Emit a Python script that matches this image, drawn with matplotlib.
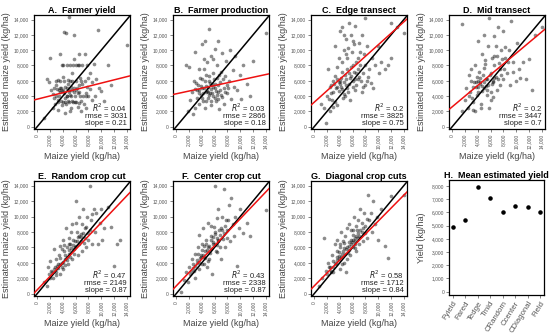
import matplotlib
matplotlib.use("Agg")
import matplotlib.pyplot as plt
from matplotlib.ticker import FuncFormatter

plt.rcParams['font.family'] = ['Liberation Sans', 'DejaVu Sans']

titles = ["A.  Farmer yield", "B.  Farmer production", "C.  Edge transect", "D.  Mid transect",
          "E.  Random crop cut", "F.  Center crop cut", "G.  Diagonal crop cuts"]
r2_vals = ["0.04", "0.03", "0.2", "0.2", "0.47", "0.43", "0.58"]
rmse_vals = [3031, 2866, 3825, 3447, 2149, 2338, 1712]
slopes = [0.21, 0.18, 0.75, 0.7, 0.87, 0.87, 0.84]
intercepts = [3600, 4300, 3200, 2600, 500, 1000, 1000]

a_pts = [(1000,1200),(1500,6200),(1800,5800),(2000,9000),(2200,4800),(2500,2500),(2600,5000),(2800,3000),(3000,4000),(3000,6000),(3200,2200),(3300,3500),(3500,9500),(3600,4500),(3700,5000),(3800,8000),(3800,2800),(4000,3200),(4000,4800),(4100,6500),(4200,12400),(4300,5200),(4400,1800),(4500,12300),(4500,3000),(4600,4000),(4700,8000),(4800,5600),(5000,14300),(5000,3200),(5100,4200),(5200,6000),(5300,2400),(5400,4800),(5500,7000),(5600,3200),(5700,12000),(5800,8800),(5900,4000),(6000,6000),(6100,3200),(6200,5000),(6300,8000),(6400,2600),(6500,4500),(6600,9500),(6700,6400),(6800,3300),(7000,5600),(7000,8000),(7200,4000),(7300,3000),(7400,6000),(7500,9500),(7600,2500),(7800,5200),(8000,6400),(8000,4000),(8200,7000),(8500,3500),(8600,5800),(8800,8200),(9000,4000),(9200,6200),(9500,12600),(9700,5000),(10000,4700),(10500,3300),(11000,8000),(11500,5500),(14000,10700),(3400,4800),(2400,4300),(4900,4600),(5800,5000),(6300,4400),(7700,4400),(3600,6000),(6900,2000),(5100,2000),(4400,3800),
         (3100,4900),(3500,5100),(3900,4700),(4200,4400),(4600,5000),(5000,4800),(5300,5200),(5700,4600),(6100,4800),(6500,5400),(3200,3200),(3700,3300),(4300,3200),(4800,3300),(5500,3300),(5900,3200),(6500,3100),(2900,5500),(3300,6100),(4200,6000),(4800,6100),(5500,6000),(6800,6000),(4000,8000),(5200,8000),(5600,8000),(6000,8000),(6600,8000),(7800,8000),(3400,4000),(4700,4000),(5300,4000),(6700,4000),(7600,4000),(8300,4900),(2700,3700)]
b_pts = [(1500,8000),(1800,2000),(2000,7800),(2200,3500),(2500,4500),(2800,6000),(3000,2500),(3000,9800),(3200,4800),(3400,5500),(3500,3000),(3600,7500),(3800,4200),(4000,6200),(4000,10800),(4200,3400),(4300,5000),(4500,11200),(4500,2500),(4600,4600),(4700,6800),(4800,8400),(5000,5200),(5000,3800),(5200,12800),(5200,6000),(5300,4400),(5400,9200),(5500,2800),(5600,5600),(5700,7000),(5800,4000),(6000,10200),(6000,5000),(6200,3300),(6300,6400),(6400,8000),(6500,4600),(6600,11200),(6700,2300),(6800,5800),(7000,7200),(7000,4200),(7200,9600),(7400,5000),(7500,3000),(7600,6600),(7800,8600),(8000,4400),(8200,6000),(8400,10000),(8500,3600),(8800,7400),(9000,5200),(9200,9200),(9500,4800),(10000,6800),(10200,3600),(10500,8000),(11000,5600),(11500,4000),(12000,8600),(14000,12200),(3900,5300),(4800,4700),(5600,4400),(6100,5600),(6900,4800),(5100,6600),(4400,7600),(7900,5400),(3300,3800),(2600,1600),
         (3500,4800),(4000,5000),(4200,4400),(4600,5300),(5000,4500),(5300,5700),(5500,4900),(5800,5200),(6200,4700),(6500,5400),(4100,3800),(4700,3400),(5400,3300),(6000,3800),(6600,3600),(3700,6400),(4500,6000),(5900,6300),(6700,6800),(7300,6200),(3100,5700),(2900,4900),(7100,3900),(8100,5100),(4300,8900),(5800,8800),(6400,4100),(7700,4600),(5100,4100),(3600,4400)]
c_pts = [(1000,3000),(1500,2500),(1800,500),(2000,4000),(2200,7500),(2400,2000),(2600,5500),(2800,3500),(3000,6000),(3000,4500),(3200,10500),(3400,5000),(3500,7800),(3600,2800),(3800,9000),(4000,6000),(4000,12500),(4200,5200),(4300,8500),(4400,13000),(4500,3800),(4600,10000),(4800,6800),(5000,5500),(5000,11500),(5200,9000),(5300,4500),(5400,13500),(5500,7000),(5600,3500),(5800,12000),(6000,6000),(6000,8000),(6200,10800),(6300,4800),(6400,13200),(6500,7000),(6600,5500),(6800,9000),(7000,11000),(7000,6500),(7200,8000),(7400,4500),(7500,12000),(7600,7000),(7800,9500),(8000,5500),(8000,8000),(8200,10500),(8400,6500),(8600,7500),(9000,9000),(9200,5000),(9500,8000),(10000,10500),(10200,7000),(10500,8500),(11000,7500),(11500,8000),(12000,9000),(13000,13000),(14000,12300),(12000,13500),(8000,14200),(4800,4000),(3800,5800),(5600,6400),(6800,6200),(4400,7200),(3300,6600),(5900,9800),(2500,5200),
         (3500,5200),(3800,4700),(4100,5600),(4400,4900),(4700,5800),(5000,6200),(5200,5100),(5500,5600),(5800,6600),(6100,5200),(6400,6200),(4200,6400),(3600,6200),(3100,5600),(2700,4400),(4600,4300),(5100,7500),(5700,7800),(6200,7200),(6900,7600),(7300,6000),(7700,5200),(8300,6000),(8800,5700),(3300,3200),(2900,2600),(2300,3600),(6600,8500),(4900,9500),(5300,10300),(7100,9700),(6000,11200),(4700,12000)]
d_pts = [(1500,13400),(1500,2000),(2000,3500),(2200,5000),(2500,2500),(2800,4500),(3000,7600),(3000,6000),(3200,3200),(3400,5800),(3500,8000),(3600,2000),(3800,6500),(4000,4500),(4000,11200),(4200,7200),(4400,5600),(4500,3000),(4600,9500),(4800,6800),(5000,5000),(5000,12000),(5200,8200),(5400,4200),(5500,6200),(5600,10500),(5800,14200),(6000,7000),(6000,3500),(6200,9000),(6400,5800),(6500,11800),(6600,8000),(6800,6500),(7000,9200),(7000,4800),(7200,13000),(7400,7500),(7500,5500),(7600,10000),(7800,8800),(8000,6200),(8000,12500),(8200,9000),(8500,7000),(8800,10000),(9000,5500),(9200,13800),(9500,8500),(10000,6000),(10200,11000),(10500,7500),(11000,8500),(11500,6200),(12000,8800),(12500,4800),(13000,12000),(14000,13000),(4300,5900),(5300,5300),(6300,6000),(3700,5200),(4900,7700),(2700,6800),(5700,2400),(6900,10600),
         (3300,5200),(3700,5800),(4100,5200),(4400,6400),(4700,5300),(5000,5800),(5300,6300),(5600,5400),(5900,6700),(6200,5600),(6600,6400),(4100,6000),(4700,4700),(5500,4800),(6100,4600),(3900,4200),(2600,4000),(3100,3800),(7100,6200),(7600,6800),(8100,7600),(6600,9300),(5100,8700),(7300,8300),(8700,8400),(9500,7100),(4500,2400),(3300,2200),(6400,3900),(8300,10400),(10600,6400)]
e_pts = [(1000,1500),(1500,1000),(1800,2500),(2000,4200),(2200,3000),(2500,2000),(2600,5800),(2800,3500),(3000,2800),(3000,4500),(3200,3800),(3400,5000),(3500,2500),(3600,6200),(3800,4000),(4000,3200),(4000,7000),(4200,5500),(4400,4500),(4500,8500),(4600,6000),(4800,3800),(5000,5200),(5000,7200),(5200,6500),(5400,4500),(5500,9000),(5600,7000),(5800,5800),(6000,12000),(6000,6200),(6200,8000),(6400,5000),(6500,10000),(6600,7500),(6800,6800),(7000,9000),(7000,5500),(7200,11000),(7400,7200),(7500,8500),(7600,6000),(7800,10000),(8000,7800),(8200,14000),(8400,9500),(8500,6500),(8800,11000),(9000,8000),(9200,10500),(9500,6400),(9800,9200),(10000,11000),(10200,7000),(10500,8500),(11000,11200),(11500,8600),(12000,3600),(12500,6500),(13000,7000),(3300,3300),(4700,4300),(5900,6800),(6900,7700),(3900,5800),(2300,2800),(5300,8000),(7900,7000),
         (2700,3200),(3100,3600),(3500,3900),(3800,3400),(4100,4100),(4400,5000),(4700,4800),(5000,5600),(5300,5900),(5600,6300),(5900,6000),(6200,6800),(6500,6400),(6800,7300),(7100,7900),(2900,2400),(3600,4600),(4300,3700),(5100,4700),(5700,5200),(6300,7300),(7300,6600),(7700,8600),(8300,8300),(4900,6500),(6100,9100),(8600,10300),(2000,2000),(1700,3500),(4200,6300)]
f_pts = [(800,200),(1200,1800),(1500,2800),(1800,1500),(2000,3500),(2200,2500),(2500,4500),(2800,3000),(3000,5200),(3000,2000),(3200,4000),(3400,6000),(3500,3200),(3600,7600),(3800,5000),(4000,3800),(4000,6500),(4200,8500),(4400,4800),(4500,5500),(4600,7000),(4800,3500),(5000,6000),(5000,9200),(5200,4500),(5400,7500),(5500,8800),(5600,2500),(5800,6500),(6000,14000),(6000,8000),(6200,5500),(6400,9800),(6500,7000),(6600,11000),(6800,6000),(7000,8500),(7000,4500),(7200,10000),(7400,7800),(7500,13500),(7600,6000),(7800,9500),(8000,8200),(8200,11500),(8400,6800),(8500,12400),(8800,9000),(9000,7500),(9200,10000),(9500,3600),(9800,8500),(10000,11000),(10500,7800),(11000,9200),(11500,7500),(14000,10800),(3700,4600),(5300,5300),(6300,6300),(4300,6200),(2600,3900),(5700,7300),(7300,7100),
         (3000,3600),(3300,4300),(3600,4100),(3900,4800),(4200,5000),(4500,4600),(4800,5700),(5100,6200),(5400,5800),(5700,6700),(6000,6500),(6300,7200),(6600,6800),(6900,7600),(7200,8200),(2700,3300),(3400,5100),(4100,5700),(4700,6500),(5500,7000),(6100,7700),(6700,8300),(7600,8800),(8100,9600),(5000,4200),(4400,3900),(2300,3000),(6400,5400),(5900,8600),(7900,7200)]
g_pts = [(800,1000),(1200,2000),(1500,7200),(1800,3000),(2000,2500),(2200,4000),(2500,3500),(2800,5000),(3000,2800),(3000,4200),(3200,6500),(3400,3800),(3500,5500),(3600,7000),(3800,4500),(4000,6000),(4000,3200),(4200,8000),(4400,5200),(4500,6800),(4600,4000),(4800,7500),(5000,5800),(5000,2800),(5200,8500),(5400,6200),(5500,9000),(5600,5000),(5800,7000),(6000,8200),(6000,6000),(6200,10000),(6400,7200),(6500,5500),(6600,8800),(6800,9500),(7000,7500),(7000,6500),(7200,11000),(7400,8000),(7500,9200),(7600,6800),(7800,10500),(8000,8800),(8200,7200),(8400,12800),(8500,9500),(8800,10500),(9000,8000),(9200,12000),(9500,9000),(9800,10000),(10000,7000),(10500,11000),(11000,6200),(11500,4600),(12000,12600),(14000,12800),(3900,4900),(5300,5300),(6300,6400),(4700,5900),(2700,3000),(6900,7900),(5900,6700),
         (3000,3500),(3300,4000),(3600,4300),(3900,5400),(4200,4700),(4500,5500),(4800,5200),(5100,6000),(5400,5700),(5700,6400),(6000,7000),(6300,6800),(6600,7500),(6900,7200),(7200,8300),(2600,2800),(3500,4700),(4100,6400),(4700,6600),(5500,6700),(6100,7600),(6700,8200),(7700,8500),(8200,9700),(5200,4500),(4400,3800),(2300,3400),(6400,5900),(5800,8200),(7900,7800)]
panel_pts = [a_pts, b_pts, c_pts, d_pts, e_pts, f_pts, g_pts]

h_categories = ["Fyield", "Fared", "Tedge", "Tmid", "CRandom", "Ccenter", "CDiagonal", "Field"]
h_values = [4900, 5400, 7900, 7100, 6050, 6450, 6400, 6000]

W, H = 550, 335
fig = plt.figure(figsize=(5.5, 3.35), dpi=100)

def px_axes(left, top, right, bottom):
    return fig.add_axes([left / W, 1 - bottom / H, (right - left) / W, (bottom - top) / H])

col_lefts = [34, 173, 311, 449]
col_w = 96
row_tb = [(15, 129), (181, 296)]

comma = FuncFormatter(lambda v, p: f"{int(v):,}")
tick_col = "#555555"
label_col = "#444444"

for i in range(7):
    r, c = divmod(i, 4)
    top, bot = row_tb[r]
    ax = px_axes(col_lefts[c], top, col_lefts[c] + col_w, bot)
    pts = panel_pts[i]
    xs = [p[0] for p in pts]
    ys = [p[1] for p in pts]
    ax.scatter(xs, ys, s=7, color="black", alpha=0.45, linewidths=0, zorder=2)
    ax.set_xlim(-500, 14500)
    ax.set_ylim(-300, 14600)
    ax.axline((0, 0), slope=1, color="black", lw=1.1, zorder=3)
    ax.axline((0, intercepts[i]), slope=slopes[i], color="#ee1111", lw=1.1, zorder=4)
    ticks = list(range(0, 14001, 2000))
    ax.set_xticks(ticks)
    ax.set_yticks(ticks)
    ax.xaxis.set_major_formatter(comma)
    ax.yaxis.set_major_formatter(comma)
    ax.tick_params(axis="x", labelrotation=90, labelsize=3.5, length=2, width=0.5,
                   pad=1.5, colors=tick_col)
    ax.tick_params(axis="y", labelsize=3.5, length=2, width=0.5, pad=1.5, colors=tick_col)
    for sp in ax.spines.values():
        sp.set_linewidth(0.9)
    ax.set_title(titles[i], fontsize=6.5, fontweight="bold", pad=1.5)
    ax.set_xlabel("Maize yield (kg/ha)", fontsize=6.5, color=label_col, labelpad=2)
    ax.set_ylabel("Estimated maize yield (kg/ha)", fontsize=6.5, color=label_col, labelpad=2)
    txt = f"$R^2$ = {r2_vals[i]}\nrmse = {rmse_vals[i]}\nslope = {slopes[i]}"
    ax.text(0.97, 0.02, txt, transform=ax.transAxes, ha="right", va="bottom",
            fontsize=5.5, color="#222222", linespacing=0.85, zorder=5)

axh = px_axes(449, 180, 544, 295)
xpos = list(range(1, len(h_categories) + 1))
axh.scatter(xpos, h_values, s=5, color="black", zorder=3)
axh.set_xlim(0.7, 8.3)
axh.set_ylim(-250, 8450)
axh.set_xticks(xpos)
axh.set_xticklabels(h_categories, rotation=58, ha="right", rotation_mode="anchor")
axh.set_yticks(list(range(0, 8001, 1000)))
axh.yaxis.set_major_formatter(comma)
axh.tick_params(axis="x", labelsize=5.6, length=2, width=0.5, pad=1.5, colors=tick_col)
axh.tick_params(axis="y", labelsize=3.5, length=2, width=0.5, pad=1.5, colors=tick_col)
for sp in axh.spines.values():
    sp.set_linewidth(0.9)
axh.set_title("H.  Mean estimated yield", fontsize=6.5, fontweight="bold", pad=1.5)
axh.set_ylabel("Yield (kg/ha)", fontsize=6.5, color=label_col, labelpad=4)

fig.savefig("out.png", dpi=100)
